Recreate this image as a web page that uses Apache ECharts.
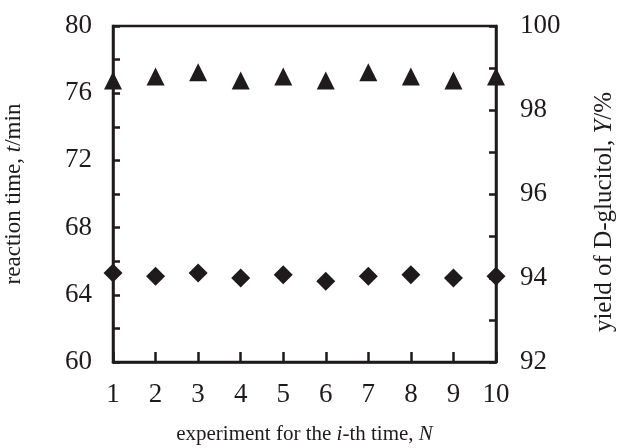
<!DOCTYPE html>
<html>
<head>
<meta charset="utf-8">
<script src="https://cdn.jsdelivr.net/npm/echarts@6/dist/echarts.min.js"></script>
<style>
  html, body { margin: 0; padding: 0; background: #fff; }
  #chart { width: 617px; height: 448px; }
</style>
</head>
<body>
<div id="chart"></div>
<script>
// experiment number
const runs = [1, 2, 3, 4, 5, 6, 7, 8, 9, 10];
// reaction time, t/min (diamonds, left axis)
const reactionTime = [65.3, 65.1, 65.3, 65.0, 65.2, 64.8, 65.1, 65.2, 65.0, 65.1];
// yield of D-glucitol, Y/% (triangles, right axis)
const glucitolYield = [98.7, 98.8, 98.9, 98.7, 98.8, 98.7, 98.9, 98.8, 98.7, 98.8];

const ink = '#1f1a1b';
const serif = '"Liberation Serif", "Times New Roman", serif';

let chart = echarts.init(document.getElementById('chart'));

let lineStyle = { color: ink, width: 2.5 };

function nameStyle(size) {
  return {
    rich: {
      n: { fontFamily: serif, fontSize: size, color: ink },
      i: { fontFamily: serif, fontSize: size, color: ink, fontStyle: 'italic' }
    }
  };
}

let options = {
  animation: false,
  grid: {
    left: 113, right: 121, top: 26, bottom: 86,
    outerBoundsMode: 'none',
    containLabel: false,
    show: true, borderColor: ink, borderWidth: 2.5
  },
  xAxis: {
    type: 'value',
    min: 1,
    max: 10,
    interval: 1,
    name: '{n|experiment for the }{i|i}{n|-th time, }{i|N}',
    nameLocation: 'middle',
    nameGap: 62,
    nameTextStyle: nameStyle(21),
    axisLine: { show: true, lineStyle: lineStyle },
    axisTick: { show: true, inside: true, length: 10, lineStyle: lineStyle },
    splitLine: { show: false },
    axisLabel: { color: ink, fontFamily: serif, fontSize: 27, margin: 19 }
  },
  yAxis: [
    {
      type: 'value',
      position: 'left',
      min: 60,
      max: 80,
      interval: 4,
      name: '{n|reaction time, }{i|t}{n|/min}',
      nameLocation: 'middle',
      nameGap: 88,
      nameRotate: 90,
      nameTextStyle: nameStyle(23),
      axisLine: { show: true, lineStyle: lineStyle },
      axisTick: { show: true, inside: true, length: 7, lineStyle: lineStyle },
      minorTick: { show: true, splitNumber: 2, length: 7, lineStyle: lineStyle },
      splitLine: { show: false },
      axisLabel: { color: ink, fontFamily: serif, fontSize: 27, margin: 21 }
    },
    {
      type: 'value',
      position: 'right',
      min: 92,
      max: 100,
      interval: 2,
      name: '{n|yield of D-glucitol, }{i|Y}{n|/%}',
      nameLocation: 'middle',
      nameGap: 96,
      nameRotate: 90,
      nameTextStyle: Object.assign(nameStyle(25), { padding: [0, 36, 0, 0] }),
      axisLine: { show: true, lineStyle: lineStyle },
      axisTick: { show: true, inside: true, length: 7, lineStyle: lineStyle },
      minorTick: { show: true, splitNumber: 2, length: 7, lineStyle: lineStyle },
      splitLine: { show: false },
      axisLabel: { color: ink, fontFamily: serif, fontSize: 27, margin: 24 }
    }
  ],
  series: [
    {
      name: 'reaction time',
      type: 'scatter',
      yAxisIndex: 0,
      symbol: 'diamond',
      symbolSize: 19,
      itemStyle: { color: ink, opacity: 1 },
      data: runs.map((n, i) => [n, reactionTime[i]])
    },
    {
      name: 'yield',
      type: 'scatter',
      yAxisIndex: 1,
      symbol: 'triangle',
      symbolSize: 18,
      itemStyle: { color: ink, opacity: 1 },
      data: runs.map((n, i) => [n, glucitolYield[i]])
    }
  ]
};
chart.setOption(options);
</script>
</body>
</html>
